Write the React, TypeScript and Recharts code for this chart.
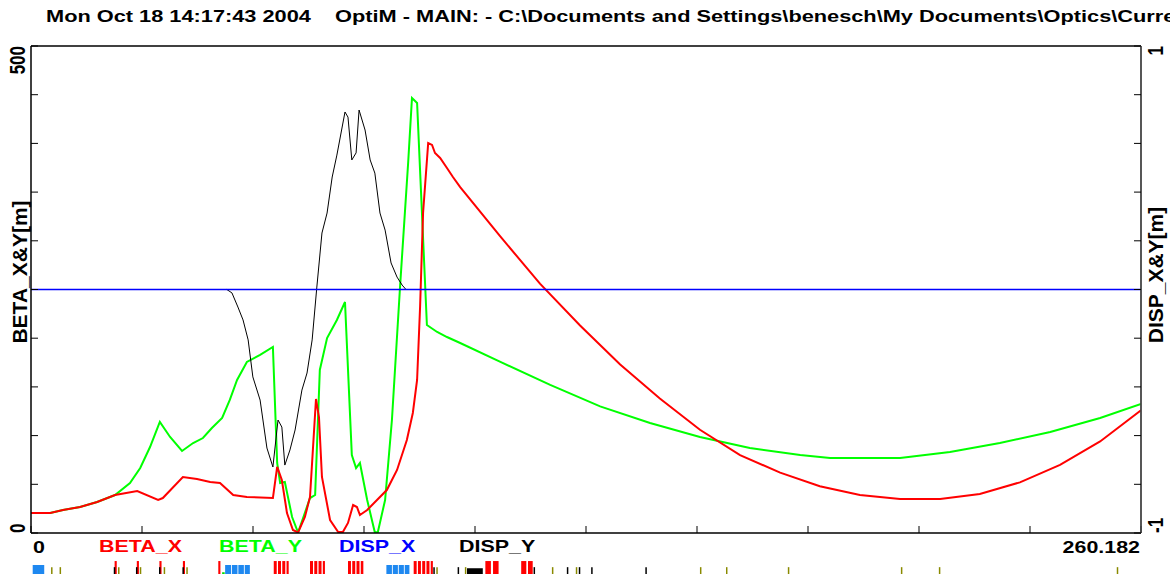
import React from 'react';
import { ComposedChart, Line, XAxis, YAxis, Legend, ReferenceArea } from 'recharts';

const S_MAX = 260.182;
const X_TICKS = [0, 26.0182, 52.0364, 78.0546, 104.0728, 130.091, 156.1092, 182.1274, 208.1456, 234.1638, 260.182];
const BETA_TICKS = [0, 50, 100, 150, 200, 250, 300, 350, 400, 450, 500];
const DISP_TICKS = [-1, -0.8, -0.6, -0.4, -0.2, 0, 0.2, 0.4, 0.6, 0.8, 1];
const SERIES_NAMES = ['BETA_X', 'BETA_Y', 'DISP_X', 'DISP_Y'];
const TITLE = 'Mon Oct 18 14:17:43 2004    OptiM - MAIN: - C:\\Documents and Settings\\benesch\\My Documents\\Optics\\Curre';
const LEFT_TITLE = 'BETA_X&Y[m]';
const RIGHT_TITLE = 'DISP_X&Y[m]';

// [s (m), value]
const BETA_X: [number, number][] = [
  [0, 20.5], [4.5, 20.5], [7.5, 23.6], [11.5, 26.7], [15.5, 31.8], [19.7, 39.0], [24.9, 43.1], [29.8, 33.9],
  [30.9, 35.9], [35.6, 57.5], [38.9, 55.4], [42.0, 52.4], [44.3, 51.3], [47.4, 39.0], [50.6, 37.0], [56.7, 35.9],
  [57.7, 67.8], [58.8, 54.4], [60.0, 20.5], [61.4, 3.1], [62.6, 0.5], [64.2, 16.4], [65.4, 37.0], [66.8, 137.6],
  [67.5, 119.1], [68.2, 57.5], [70.1, 13.3], [72.0, 1.0], [73.1, 1.0], [74.3, 10.3], [75.5, 28.7], [76.4, 26.7],
  [77.1, 18.5], [78.8, 23.6], [81.1, 33.9], [83.4, 44.1], [85.8, 64.7], [88.1, 95.5], [89.5, 123.2], [90.5, 157.1],
  [91.2, 232.0], [91.9, 328.5], [93.1, 400.4], [94.0, 398.4], [94.7, 390.1], [95.9, 385.0], [97.5, 374.7],
  [98.9, 365.5], [100.6, 355.2], [109.9, 305], [119.3, 256], [128.7, 213], [138.1, 173], [147.4, 138],
  [156.8, 106], [166.2, 80], [175.6, 62], [184.9, 48], [194.3, 39], [203.7, 35], [213.1, 35], [222.4, 40],
  [231.8, 52], [241.2, 70], [250.6, 94], [260.182, 126],
];

const BETA_Y: [number, number][] = [
  [0, 20.5], [4.5, 20.5], [7.5, 23.6], [11.5, 26.7], [15.5, 31.8], [19.7, 39.0], [23.2, 51.3], [25.6, 66.7],
  [27.9, 88.3], [30.2, 114.0], [32.6, 98.6], [35.4, 84.2], [38.0, 92.4], [40.3, 97.5], [42.4, 107.8],
  [44.8, 118.1], [46.6, 136.6], [48.3, 157.1], [50.6, 175.6], [53.7, 182.8], [56.7, 191.0], [57.7, 71.9],
  [58.4, 51.3], [59.5, 52.4], [61.2, 16.4], [62.6, 0.5], [65.4, 35.9], [66.6, 39.0], [67.7, 167.4],
  [69.4, 200.2], [71.7, 218.7], [73.6, 237.2], [75.2, 80.1], [76.2, 66.7], [77.1, 71.9], [78.8, 33.9],
  [80.6, 0.5], [81.3, 1.0], [83.0, 33.9], [84.6, 116.0], [86.5, 252.6], [88.4, 379.9], [89.3, 446.6],
  [90.5, 441.5], [91.4, 352.2], [92.8, 213.6], [95.2, 206.4], [97.5, 201.2], [100.6, 195.1], [109.9, 176],
  [121.7, 152], [133.4, 130], [145.1, 113], [156.8, 98.6], [168.5, 87.3], [180.3, 80.1], [187.3, 77.0],
  [203.7, 77.0], [215.4, 83.2], [227.1, 92.4], [238.9, 103.7], [250.6, 118.1], [260.182, 132.4],
];

const DISP_X: [number, number][] = [[0, 0], [260.182, 0]];

const DISP_Y: [number, number][] = [
  [0, 0], [45.9, 0], [47.1, -0.014], [48.5, -0.072], [49.7, -0.125], [50.9, -0.207], [52.0, -0.359],
  [53.7, -0.454], [55.3, -0.651], [56.7, -0.729], [57.9, -0.536], [58.8, -0.565], [59.5, -0.721],
  [60.7, -0.659], [61.9, -0.577], [63.5, -0.413], [64.7, -0.343], [65.9, -0.207], [67.0, 0.01],
  [68.2, 0.232], [69.4, 0.314], [70.6, 0.462], [71.7, 0.552], [73.6, 0.729], [74.3, 0.708], [75.2, 0.532],
  [76.2, 0.561], [76.9, 0.737], [78.3, 0.655], [79.5, 0.532], [80.6, 0.478], [81.8, 0.314], [83.0, 0.244],
  [84.4, 0.109], [85.8, 0.051], [87.0, 0.018], [87.9, 0], [260.182, 0],
];

// lattice elements (s from, s to)
const QUADS: [number, number][] = [
  [0.4, 3.1], [45.5, 46.9], [47.1, 48.4], [48.6, 49.9], [50.1, 51.3],
  [83.3, 84.6], [84.8, 86.0], [86.2, 87.4], [87.6, 88.7],
];
const BENDS: [number, number][] = [
  [19.6, 20.1], [24.8, 25.3], [30.1, 30.6], [35.6, 36.1], [43.9, 44.4],
  [56.9, 57.6], [57.9, 58.6], [58.9, 59.6], [59.9, 60.4],
  [65.4, 66.1], [66.4, 67.1], [67.4, 68.1], [68.4, 68.9],
  [74.3, 75.0], [75.3, 76.0], [76.3, 77.0], [77.3, 77.9],
  [89.7, 90.4], [90.7, 91.4], [91.7, 92.4], [92.7, 93.4], [93.7, 94.2],
  [106.5, 107.8], [108.3, 109.6], [114.9, 116.1], [116.5, 117.6],
];
const SOLENOIDS: [number, number][] = [[44.8, 45.4]];
const BLOCKS: [number, number][] = [[102.2, 105.9]];
const SEXTS: number[] = [4.7, 6.7, 20.4, 25.5, 31.1, 36.4, 95.0, 101.7, 122.1, 127.7, 156.8, 162.9, 177.4, 203.9, 212.8, 254.5];
const MONITORS: number[] = [19.4, 24.6, 30.0, 35.5, 94.3, 100.0, 117.8, 125.6, 128.4, 131.3, 144.0];

const toPts = (arr: [number, number][]) => arr.map(([s, v]) => ({ s, v }));

const FONT = '"Liberation Sans", Arial, Helvetica, sans-serif';
const SX = 1.26;
const TITLE_SX = 1.28;
const FS = 17;
const THIN = 0.35;

const textStyle = { fontFamily: FONT, fontWeight: 700, fontSize: FS } as const;
const titleStyle = { fontFamily: FONT, fontWeight: 700, fontSize: 21 } as const;

const LeftTick = (props: any) => {
  const v = props.payload?.value;
  const y = props.payload?.coordinate ?? props.y;
  if (v !== 0 && v !== 500) return <g />;
  return (
    <text transform={`translate(25,${y}) rotate(-90) scale(1,${SX})`} textAnchor={v === 500 ? 'end' : 'start'} fill="#000" style={textStyle}>
      {String(v)}
    </text>
  );
};

const RightTick = (props: any) => {
  const v = props.payload?.value;
  const y = props.payload?.coordinate ?? props.y;
  if (v !== 1 && v !== -1) return <g />;
  return (
    <text transform={`translate(1163,${y}) rotate(-90) scale(1,${SX})`} textAnchor={v === 1 ? 'end' : 'start'} fill="#000" style={textStyle}>
      {String(v)}
    </text>
  );
};

const BottomTick = (props: any) => {
  const v = props.payload?.value;
  const x = props.payload?.coordinate ?? props.x;
  if (v !== 0 && v !== S_MAX) return <g />;
  const isEnd = v === S_MAX;
  return (
    <text transform={`translate(${isEnd ? x - 1 : x + 2},553) scale(${SX},1)`} textAnchor={isEnd ? 'end' : 'start'} fill="#000" style={textStyle}>
      {String(v)}
    </text>
  );
};

const LegendContent = (props: any) => {
  const items = [...(props.payload || [])].sort(
    (a: any, b: any) => SERIES_NAMES.indexOf(a.value) - SERIES_NAMES.indexOf(b.value)
  );
  return (
    <div style={{ position: 'relative', width: 1170, height: 20 }}>
      {items.map((it: any, i: number) => (
        <span
          key={it.value}
          style={{
            position: 'absolute', left: 99 + i * 120, top: 0, color: it.color, fontFamily: FONT, fontWeight: 700,
            fontSize: FS, lineHeight: '17px', whiteSpace: 'nowrap', transform: `scaleX(${SX})`, transformOrigin: 'left top',
          }}
        >
          {it.value}
        </span>
      ))}
    </div>
  );
};

const AxisTitle = (x: number, y: number, text: string) => () => (
  <text transform={`translate(${x},${y}) rotate(-90)`} textAnchor="middle" fill="#000" style={titleStyle}>
    {text}
  </text>
);

export default function App() {
  return (
    <div style={{ position: 'absolute', left: 0, top: 0, width: 1170, height: 574, overflow: 'hidden', background: '#fff' }}>
      <div
        style={{
          position: 'absolute', left: 46, top: 8, fontFamily: FONT, fontWeight: 700, fontSize: FS, lineHeight: '17px',
          whiteSpace: 'pre', transform: `scaleX(${TITLE_SX})`, transformOrigin: 'left top', color: '#000',
        }}
      >
        {TITLE}
      </div>
      <div style={{ position: 'absolute', left: 0, top: 0 }}>
        <ComposedChart width={1170} height={574} margin={{ top: 46, right: 29, bottom: 41, left: 31 }}>
          <XAxis
            dataKey="s" type="number" domain={[0, S_MAX]} ticks={X_TICKS} interval={0} mirror allowDataOverflow
            axisLine={{ stroke: '#000', strokeWidth: 1.5 }} tickLine={{ stroke: '#000' }} tickSize={7} tick={BottomTick}
          />
          <XAxis
            xAxisId="top" orientation="top" type="number" domain={[0, S_MAX]} mirror allowDataOverflow
            axisLine={{ stroke: '#000', strokeWidth: 1.5 }} tickLine={false} tick={false}
          />
          <YAxis
            yAxisId="left" type="number" domain={[0, 500]} ticks={BETA_TICKS} interval={0} mirror width={30} allowDataOverflow
            axisLine={{ stroke: '#000', strokeWidth: 1.5 }} tickLine={{ stroke: '#000' }} tickSize={7} tick={LeftTick}
            label={{ content: AxisTitle(27, 272, LEFT_TITLE) }}
          />
          <YAxis
            yAxisId="right" orientation="right" type="number" domain={[-1, 1]} ticks={DISP_TICKS} interval={0} mirror width={30}
            allowDataOverflow axisLine={{ stroke: '#444', strokeWidth: 1.8 }} tickLine={{ stroke: '#000' }} tickSize={7}
            tick={RightTick} label={{ content: AxisTitle(1163, 275, RIGHT_TITLE) }}
          />
          <Legend
            layout="horizontal" verticalAlign="middle" align="center" content={LegendContent}
            wrapperStyle={{ left: 0, top: 538, width: 1170 }}
          />
          <Line yAxisId="left" data={toPts(BETA_Y)} dataKey="v" name="BETA_Y" stroke="#00FF00" strokeWidth={2} dot={false} isAnimationActive={false} type="linear" />
          <Line yAxisId="left" data={toPts(BETA_X)} dataKey="v" name="BETA_X" stroke="#FF0000" strokeWidth={2} dot={false} isAnimationActive={false} type="linear" />
          <Line yAxisId="right" data={toPts(DISP_Y)} dataKey="v" name="DISP_Y" stroke="#000000" strokeWidth={1} dot={false} isAnimationActive={false} type="linear" />
          <Line yAxisId="right" data={toPts(DISP_X)} dataKey="v" name="DISP_X" stroke="#0000FF" strokeWidth={1.6} dot={false} isAnimationActive={false} type="linear" />
        </ComposedChart>
      </div>
      <div style={{ position: 'absolute', left: 0, top: 556 }}>
        <ComposedChart width={1170} height={36} margin={{ top: 0, right: 29, bottom: 0, left: 31 }} data={[{ s: 0 }, { s: S_MAX }]}>
          <XAxis dataKey="s" type="number" domain={[0, S_MAX]} hide allowDataOverflow />
          <YAxis type="number" domain={[0, 1]} hide allowDataOverflow />
          {QUADS.map(([a, b], i) => (
            <ReferenceArea key={'q' + i} x1={a} x2={b} y1={0.2} y2={0.75} fill="#1E88F0" fillOpacity={1} stroke="none" ifOverflow="visible" />
          ))}
          {BENDS.map(([a, b], i) => (
            <ReferenceArea key={'b' + i} x1={a} x2={b} y1={0.2} y2={0.86} fill="#FF0000" fillOpacity={1} stroke="none" ifOverflow="visible" />
          ))}
          {SOLENOIDS.map(([a, b], i) => (
            <ReferenceArea key={'g' + i} x1={a} x2={b} y1={0.2} y2={0.55} fill="#00DD00" fillOpacity={1} stroke="none" ifOverflow="visible" />
          ))}
          {BLOCKS.map(([a, b], i) => (
            <ReferenceArea key={'k' + i} x1={a} x2={b} y1={0.2} y2={0.66} fill="#000" fillOpacity={1} stroke="none" ifOverflow="visible" />
          ))}
          {SEXTS.map((s, i) => (
            <ReferenceArea key={'x' + i} x1={s} x2={s + THIN} y1={0.2} y2={0.69} fill="#8A8A00" fillOpacity={1} stroke="none" ifOverflow="visible" />
          ))}
          {MONITORS.map((s, i) => (
            <ReferenceArea key={'m' + i} x1={s} x2={s + THIN} y1={0.2} y2={0.69} fill="#000" fillOpacity={1} stroke="none" ifOverflow="visible" />
          ))}
        </ComposedChart>
      </div>
    </div>
  );
}
